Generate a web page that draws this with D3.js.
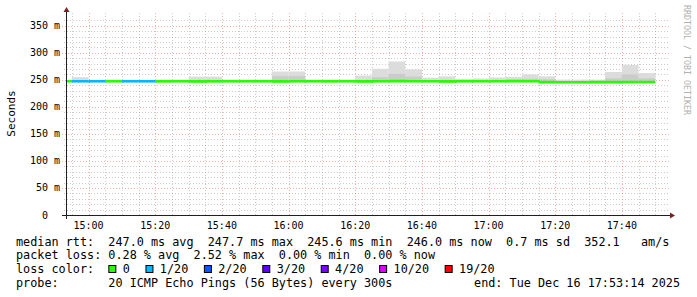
<!DOCTYPE html>
<html><head><meta charset="utf-8">
<script src="https://cdn.jsdelivr.net/npm/d3@7"></script>
<style>
html,body{margin:0;padding:0;background:#fff;}
svg text{font-family:"DejaVu Sans Mono",monospace;white-space:pre;}
</style></head>
<body><svg id="c" width="697" height="297"></svg>
<script>
// ---- data ----
const slotStart = ["14:50","14:55","15:00","15:05","15:10","15:15","15:20","15:25","15:30","15:35",
  "15:40","15:45","15:50","15:55","16:00","16:05","16:10","16:15","16:20","16:25",
  "16:30","16:35","16:40","16:45","16:50","16:55","17:00","17:05","17:10","17:15",
  "17:20","17:25","17:30","17:35","17:40","17:45"];
const lossIdx = [0,1,1,0,1,1,0,0,0,0, 0,0,0,0,0,0,0,0,0,0, 0,0,0,0,0,0,0,0,0,0, 0,0,0,0,0,0];
const medianMs = [247.5,247.4,247.5,247.4,247.5,247.4,247.3,247.3,247.2,247.3,
  247.3,247.4,247.3,247.2,247.3,247.4,247.3,247.3,247.2,247.3,
  247.7,247.5,247.3,247.2,247.3,247.4,247.5,247.6,247.4,245.8,
  245.7,245.6,245.8,245.9,246.0,246.0];
const smokeHi = [247.5,255,248,248,248,248,248,248,256,256,
  248,248,248,265.5,265.5,248,248,248,258,270.5,
  284,269.5,254,256.5,252,252.5,254.5,255.7,260,256.6,
  250.5,250.5,250.5,264.5,277.5,262.7];
const smokeMid = [247.5,249,248,248,248,248,248,248,250,250,
  248,248,248,257,257,248,248,248,250,255,
  261,256,249,250,249,249,250,250,252,251,
  248,248,248,253,260,253];
const lossLabels = ["0","1/20","2/20","3/20","4/20","10/20","19/20"];
const lossColors = ["#26ff00","#00b8ff","#0059ff","#5e00ff","#7e00ff","#dd00ff","#ff0000"];
const yLabelTicks = [0,50,100,150,200,250,300,350];
const statLines = [
  "median rtt:  247.0 ms avg  247.7 ms max  245.6 ms min  246.0 ms now  0.7 ms sd  352.1   am/s",
  "packet loss: 0.28 % avg  2.52 % max  0.00 % min  0.00 % now"
];
const probeText = "probe:       20 ICMP Echo Pings (56 Bytes) every 300s";
const endText = "end: Tue Dec 16 17:53:14 2025";

// ---- scales ----
const svg = d3.select("#c");
const pt = d3.timeParse("%Y-%m-%d %H:%M:%S");
const day = "2025-12-16 ";
const t0 = pt(day+"14:53:14"), t1 = pt(day+"17:53:14");
const x = d3.scaleTime().domain([t0,t1]).range([66,666]);
const y = d3.scaleLinear().domain([0,370]).range([215,15]);
const slots = slotStart.map((s,i)=>{
  const a = pt(day+s+":00");
  return {a, b:new Date(+a+300000), loss:lossIdx[i], med:medianMs[i], hi:smokeHi[i], mid:smokeMid[i]};
});
const cx = d => Math.max(x(d),66);

svg.append("rect").attr("width",697).attr("height",297).attr("fill","#fff");

// ---- grid ----
const g = svg.append("g");
const minorV = d3.timeMinute.every(5).range(t0,t1).filter(d=>d.getMinutes()%20!==0);
const majorV = d3.timeMinute.every(20).range(t0,t1);
g.selectAll(".mv").data(minorV).join("line")
  .attr("x1",d=>Math.round(x(d))+0.5).attr("x2",d=>Math.round(x(d))+0.5)
  .attr("y1",13).attr("y2",217).attr("stroke","rgba(143,143,143,0.45)").attr("stroke-dasharray","1,2");
const minorH = d3.range(10,370,10).filter(v=>v%50!==0);
g.selectAll(".mh").data(minorH).join("line")
  .attr("y1",d=>Math.round(y(d))+0.5).attr("y2",d=>Math.round(y(d))+0.5)
  .attr("x1",64).attr("x2",669).attr("stroke","rgba(143,143,143,0.45)").attr("stroke-dasharray","1,2");
g.selectAll(".MV").data(majorV).join("line")
  .attr("x1",d=>Math.round(x(d))+0.5).attr("x2",d=>Math.round(x(d))+0.5)
  .attr("y1",13).attr("y2",217).attr("stroke","rgba(222,79,79,0.45)").attr("stroke-dasharray","1,2");
g.selectAll(".MH").data(yLabelTicks.filter(v=>v>0)).join("line")
  .attr("y1",d=>Math.round(y(d))+0.5).attr("y2",d=>Math.round(y(d))+0.5)
  .attr("x1",62).attr("x2",669).attr("stroke","rgba(222,79,79,0.45)").attr("stroke-dasharray","1,2");

// ---- smoke ----
const sm = svg.append("g");
sm.selectAll(".s1").data(slots.filter(s=>s.hi>s.med)).join("rect")
  .attr("x",s=>cx(s.a)).attr("width",s=>x(s.b)-cx(s.a))
  .attr("y",s=>y(s.hi)).attr("height",s=>y(s.med)-y(s.hi)+1).attr("fill","#dcdcdc");
sm.selectAll(".s2").data(slots.filter(s=>s.mid>s.med)).join("rect")
  .attr("x",s=>cx(s.a)).attr("width",s=>x(s.b)-cx(s.a))
  .attr("y",s=>y(s.mid)).attr("height",s=>y(s.med)-y(s.mid)+1).attr("fill","#cbcbcb");

// ---- median line ----
const ln = svg.append("g");
slots.forEach((s,i)=>{
  const nx = slots[i+1];
  const pts = [[cx(s.a),y(s.med)],[x(s.b),y(s.med)]];
  if(nx) pts.push([x(s.b),y(nx.med)]);
  ln.append("path").attr("d",d3.line()(pts)).attr("fill","none")
    .attr("stroke",lossColors[s.loss]).attr("stroke-width",2.6);
});

// ---- axes ----
svg.append("line").attr("x1",62).attr("x2",671).attr("y1",215.5).attr("y2",215.5).attr("stroke","#1f1f1f");
svg.append("line").attr("x1",66.5).attr("x2",66.5).attr("y1",219).attr("y2",11).attr("stroke","#1f1f1f");
svg.append("path").attr("d","M670,212.5L675,215.5L670,218.5Z").attr("fill","#801f1f");
svg.append("path").attr("d","M63.5,12L66.5,7L69.5,12Z").attr("fill","#801f1f");

// tick labels
svg.selectAll(".xl").data(majorV).join("text")
  .attr("x",d=>x(d)).attr("y",229).attr("text-anchor","middle")
  .attr("font-size","10px").attr("fill","#000").text(d3.timeFormat("%H:%M"));
svg.selectAll(".yl").data(yLabelTicks).join("text")
  .attr("x",60).attr("y",d=>y(d)+3.5).attr("text-anchor","end")
  .attr("font-size","10px").attr("fill","#000").text(d=>d===0?"0  ":d+" m");

// axis title
svg.append("text").attr("transform","translate(14.5,113.5) rotate(-90)")
  .attr("text-anchor","middle").attr("font-size","11px").attr("fill","#000").text("Seconds");
svg.append("text").attr("transform","translate(684,5) rotate(90)")
  .attr("font-size","8.3px").attr("fill","#b0b0b0").text("RRDTOOL / TOBI OETIKER");

// ---- legend ----
const fs = "11.8px";
const base = [245.5,259.3,273.1,286.9];
statLines.forEach((t,i)=>svg.append("text").attr("x",16).attr("y",base[i]).attr("font-size",fs).attr("fill","#000").text(t));
const lc = svg.append("text").attr("x",16).attr("y",base[2]).attr("font-size",fs).attr("fill","#000").text("loss color:  ");
let px = 16 + lc.node().getComputedTextLength();
lossLabels.forEach((lab,i)=>{
  svg.append("rect").attr("x",px+0.5).attr("y",265.5).attr("width",7).attr("height",7)
    .attr("fill",lossColors[i]).attr("stroke","#000").attr("stroke-width",1);
  const tt = svg.append("text").attr("x",px+14.4).attr("y",base[2]).attr("font-size",fs).attr("fill","#000").text(lab);
  px = px + 14.4 + tt.node().getComputedTextLength() + 15.6;
});
svg.append("text").attr("x",16).attr("y",base[3]).attr("font-size",fs).attr("fill","#000").text(probeText);
svg.append("text").attr("x",680).attr("y",base[3]).attr("text-anchor","end").attr("font-size",fs).attr("fill","#000").text(endText);
</script></body></html>
